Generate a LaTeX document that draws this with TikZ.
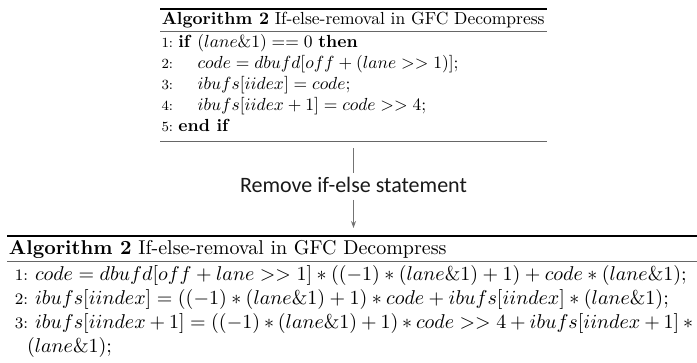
\documentclass[tikz,border=0pt]{standalone}
\usepackage{fontspec}
\newfontfamily\labelfont{Carlito}
\usetikzlibrary{arrows.meta}
\newdimen\lnumwd \lnumwd=7.5pt
\newcommand\lnum[1]{\hbox to \lnumwd{\hfil\footnotesize #1:}}
\newcommand\arow[3]{\hbox to \hsize{\vrule height 9pt depth 3pt width 0pt\lnum{#1}\hskip #2\relax #3\hfil}}
\newcommand\crow[2]{\hbox to \hsize{\vrule height 9pt depth 3pt width 0pt\hskip #1\relax #2\hfil}}
\newcommand\trow{\hbox to \hsize{\vrule height 7.5pt depth 3.5pt width 0pt\hskip 1pt\textbf{Algorithm 2} If-else-removal in GFC Decompress\hfil}}
\begin{document}
\begin{tikzpicture}[x=1pt,y=-1pt,
  alg/.style={inner sep=0pt, outer sep=0pt, anchor=north west},
  conn/.style={draw=black!55, line width=0.9pt},
  lab/.style={font=\labelfont\fontsize{22}{26}\selectfont, text=black!90, inner xsep=0pt, inner ysep=4pt}]
\useasboundingbox (0,0) rectangle (697,362);
\node[alg, scale=1.75] (topalg) at (160,8) {\begin{minipage}{221pt}\offinterlineskip
\lnumwd=7.5pt
\hrule height 1.2pt
\vskip 0.8pt
\trow
{\color{black!60}\hrule height 0.5pt}
\arow{1}{3pt}{\textbf{if} $(lane\&1) == 0$ \textbf{then}}
\arow{2}{14pt}{$code = dbufd[off + (lane >> 1)];$}
\arow{3}{14pt}{$ibufs[iidex] = code;$}
\arow{4}{14pt}{$ibufs[iidex + 1] = code >> 4;$}
\arow{5}{3pt}{\textbf{end if}}
\vskip 2.5pt
{\color{black!60}\hrule height 0.5pt}
\end{minipage}};
\node[lab] (label) at (353.5,185) {Remove if-else statement};
\node[alg, scale=2] (botalg) at (7,235) {\begin{minipage}{345pt}\offinterlineskip
\lnumwd=10.5pt
\hrule height 1.2pt
\vskip 0.8pt
\trow
{\color{black!60}\hrule height 0.5pt}
\arow{1}{3.5pt}{$code = dbufd[off + lane >> 1] * ((-1) * (lane\&1) + 1) + code * (lane\&1);$}
\arow{2}{3.5pt}{$ibufs[iindex] = ((-1) * (lane\&1) + 1) * code + ibufs[iindex] * (lane\&1);$}
\arow{3}{3.5pt}{$ibufs[iindex + 1] = ((-1) * (lane\&1) + 1) * code >> 4 + ibufs[iindex + 1] *{}$}
\crow{10pt}{$(lane\&1);$}
\end{minipage}};
\draw[conn, shorten <=6pt] (topalg.south -| label.north) -- (label.north);
\draw[conn, -{Stealth[length=7pt,width=5pt]}, shorten <=3pt, shorten >=7pt] (label.south) -- (label.south |- botalg.north);
\end{tikzpicture}
\end{document}
